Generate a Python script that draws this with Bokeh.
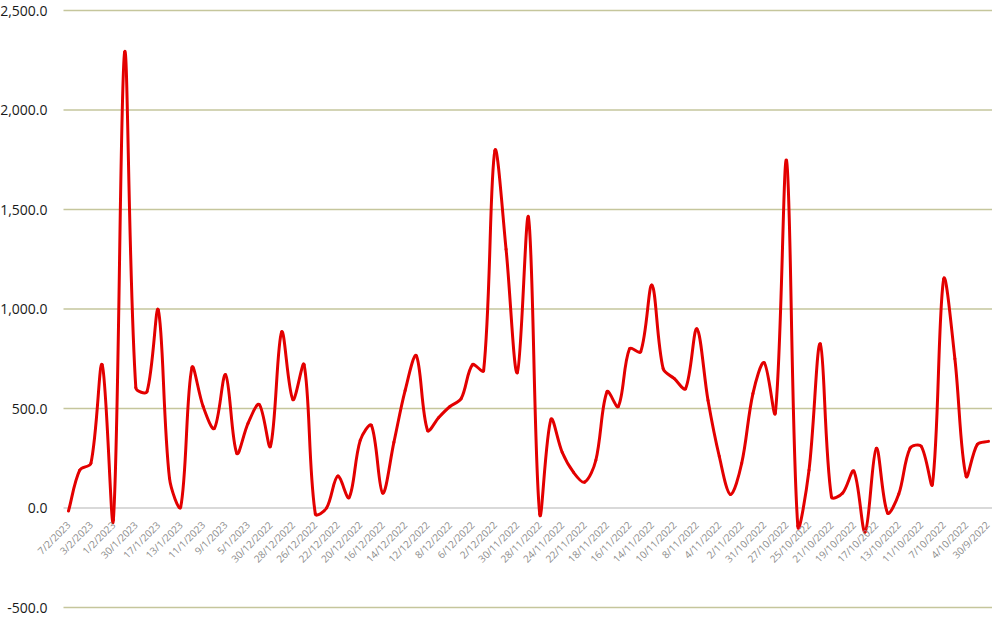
import numpy as np
from bokeh.plotting import figure
from bokeh.models import Range1d, FixedTicker, NumeralTickFormatter, LinearAxis
from bokeh.embed import file_html
from bokeh.resources import INLINE

dates = [
    "7/2/2023", "6/2/2023", "3/2/2023", "2/2/2023", "1/2/2023", "31/1/2023",
    "30/1/2023", "18/1/2023", "17/1/2023", "16/1/2023", "13/1/2023", "12/1/2023",
    "11/1/2023", "10/1/2023", "9/1/2023", "6/1/2023", "5/1/2023", "4/1/2023",
    "30/12/2022", "29/12/2022", "28/12/2022", "27/12/2022", "26/12/2022", "23/12/2022",
    "22/12/2022", "21/12/2022", "20/12/2022", "19/12/2022", "16/12/2022", "15/12/2022",
    "14/12/2022", "13/12/2022", "12/12/2022", "9/12/2022", "8/12/2022", "7/12/2022",
    "6/12/2022", "5/12/2022", "2/12/2022", "1/12/2022", "30/11/2022", "29/11/2022",
    "28/11/2022", "25/11/2022", "24/11/2022", "23/11/2022", "22/11/2022", "21/11/2022",
    "18/11/2022", "17/11/2022", "16/11/2022", "15/11/2022", "14/11/2022", "11/11/2022",
    "10/11/2022", "9/11/2022", "8/11/2022", "7/11/2022", "4/11/2022", "3/11/2022",
    "2/11/2022", "1/11/2022", "31/10/2022", "28/10/2022", "27/10/2022", "26/10/2022",
    "25/10/2022", "24/10/2022", "21/10/2022", "20/10/2022", "19/10/2022", "18/10/2022",
    "17/10/2022", "14/10/2022", "13/10/2022", "12/10/2022", "11/10/2022", "10/10/2022",
    "7/10/2022", "6/10/2022", "4/10/2022", "3/10/2022", "30/9/2022",
]

values = [
    -15, 190, 225, 720, -60, 2290, 605, 585, 995, 150,
    5, 705, 510, 400, 670, 275, 425, 520, 310, 885,
    545, 720, -30, 0, 160, 52, 340, 415, 75, 330,
    590, 765, 390, 455, 510, 550, 720, 690, 1795, 1300,
    680, 1460, -30, 445, 280, 180, 130, 240, 585, 510,
    800, 785, 1120, 700, 650, 600, 900, 540, 260, 68,
    225, 575, 730, 478, 1745, -90, 190, 825, 55, 75,
    185, -120, 300, -25, 70, 300, 310, 120, 1150, 750,
    160, 320, 335,
]

y_ticks = [-500, 0, 500, 1000, 1500, 2000, 2500]

# ---- layout (pixels inside the figure) ----
W, H = 992, 615
PLOT_LEFT_PX = 63          # where the value gridlines start
FIRST_PX, STEP_PX = 68, 11.22
TOP_PX, BOTTOM_PX = 10, 607  # pixel rows of the top / bottom value ticks

n = len(values)
X0 = -FIRST_PX / STEP_PX
X1 = X0 + W / STEP_PX
ppu_y = (BOTTOM_PX - TOP_PX) / (y_ticks[-1] - y_ticks[0])
Y1 = y_ticks[-1] + TOP_PX / ppu_y
Y0 = y_ticks[0] - (H - BOTTOM_PX) / ppu_y
GRID_X0 = X0 + PLOT_LEFT_PX / STEP_PX

xs = np.arange(n, dtype=float)
ys = np.array(values, dtype=float)

# Smoothed line (spreadsheet-style): cubic Bezier segments, tangent from the
# neighbours, control lengths proportional to the on-screen segment lengths
sx, sy = STEP_PX, ppu_y
xe = np.concatenate([[xs[0]], xs, [xs[-1]]])
ye = np.concatenate([[ys[0]], ys, [ys[-1]]])
tx = xe[2:] - xe[:-2]
ty = ye[2:] - ye[:-2]
seg = np.hypot(np.diff(xs) * sx, np.diff(ys) * sy)
d_prev = np.concatenate([[0.0], seg])
d_next = np.concatenate([seg, [0.0]])
tot = d_prev + d_next
f_fwd = np.where(tot > 0, d_next / tot, 0.5) / 3.0
f_bwd = np.where(tot > 0, d_prev / tot, 0.5) / 3.0

p = figure(
    width=W, height=H,
    output_backend="svg", toolbar_location=None,
    x_range=Range1d(X0, X1), y_range=Range1d(Y0, Y1),
    x_axis_location=None, y_axis_location=None,
    min_border_left=0, min_border_right=0, min_border_top=0, min_border_bottom=0,
)
p.outline_line_color = None
p.background_fill_color = "white"
p.border_fill_color = "white"
p.xgrid.visible = False
p.ygrid.visible = False

# value gridlines (zero line grey)
grid_y = [v for v in y_ticks if v != 0]
p.segment(x0=[GRID_X0] * len(grid_y), x1=[X1] * len(grid_y), y0=grid_y, y1=grid_y,
          line_color="#c5c69c", line_width=1.5)
p.segment(x0=[GRID_X0], x1=[X1], y0=[0], y1=[0], line_color="#d9d9d9", line_width=2)

p.bezier(x0=xs[:-1], y0=ys[:-1], x1=xs[1:], y1=ys[1:],
         cx0=xs[:-1] + tx[:-1] * f_fwd[:-1], cy0=ys[:-1] + ty[:-1] * f_fwd[:-1],
         cx1=xs[1:] - tx[1:] * f_bwd[1:], cy1=ys[1:] - ty[1:] * f_bwd[1:],
         line_color="#e30000", line_width=3, line_cap="round")

# y axis, placed at the left end of the gridlines
ya = LinearAxis(fixed_location=GRID_X0)
ya.ticker = FixedTicker(ticks=y_ticks)
ya.formatter = NumeralTickFormatter(format="0,0.0")
ya.axis_line_color = None
ya.major_tick_line_color = None
ya.minor_tick_line_color = None
ya.major_label_text_font = "Open Sans"
ya.major_label_text_font_size = "14px"
ya.major_label_text_color = "#1a1a1a"
ya.major_label_standoff = 10
p.add_layout(ya, "left")

# category axis, drawn along the zero line
xa = LinearAxis(fixed_location=0)
xa.ticker = FixedTicker(ticks=list(range(0, n, 2)))
xa.major_label_overrides = {i: dates[i] for i in range(0, n, 2)}
xa.major_label_orientation = np.pi / 4
xa.axis_line_color = None
xa.major_tick_line_color = None
xa.minor_tick_line_color = None
xa.major_label_text_font = "Open Sans"
xa.major_label_text_font_size = "10px"
xa.major_label_text_color = "#8c8c8c"
xa.major_label_standoff = 9
p.add_layout(xa, "below")

open("out.html", "w").write(file_html(p, INLINE))
